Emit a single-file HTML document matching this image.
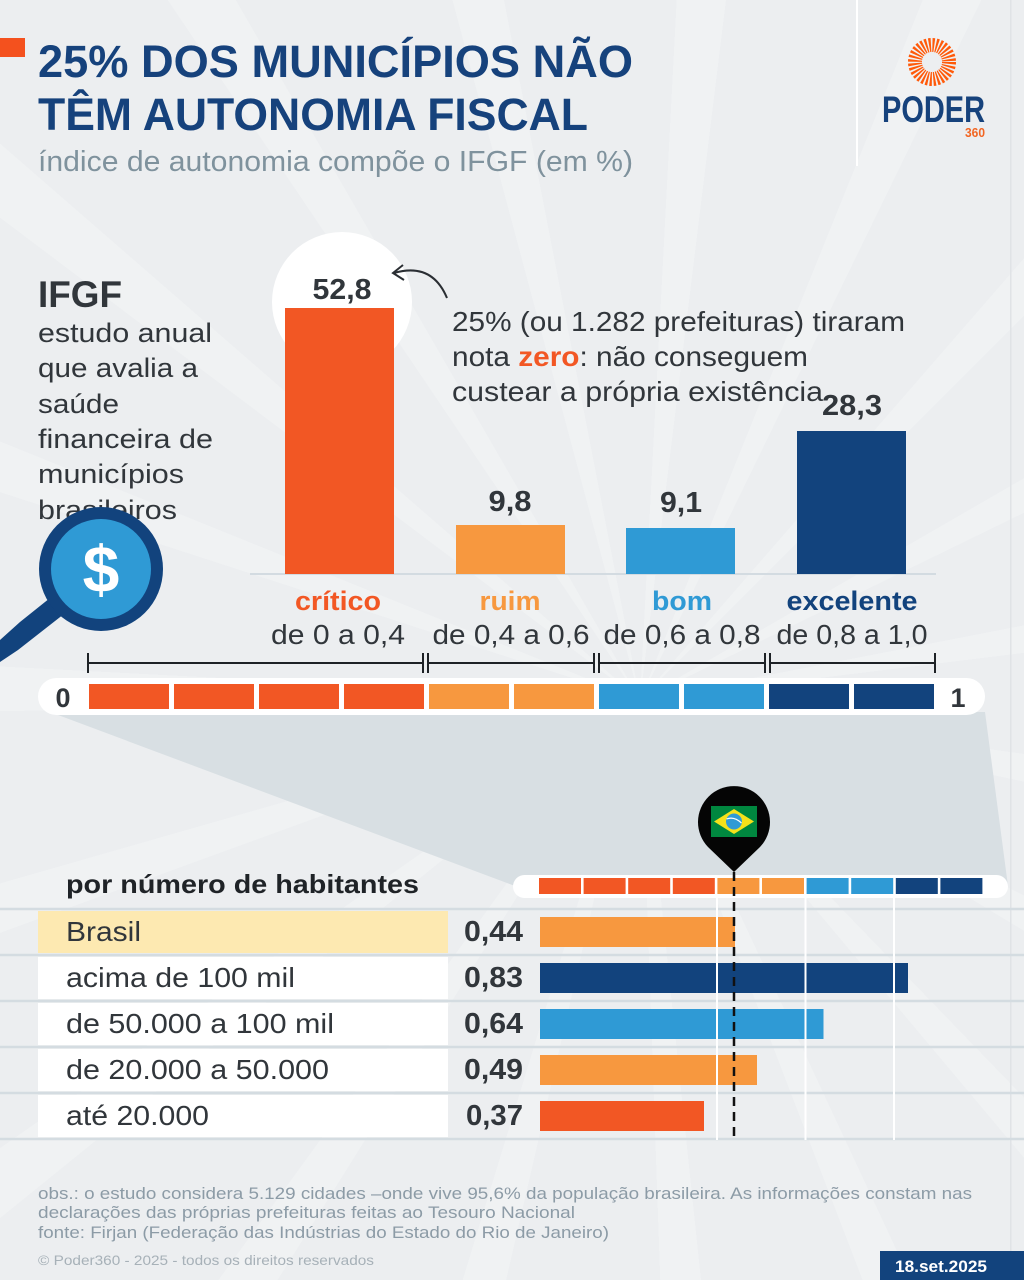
<!DOCTYPE html>
<html><head><meta charset="utf-8"><style>
html,body{margin:0;padding:0;width:1024px;height:1280px;overflow:hidden;}
body{background-color:#eceef0;background-image:repeating-conic-gradient(from 3deg at 640px 700px, rgba(255,255,255,0.22) 0deg 4deg, rgba(255,255,255,0) 4deg 19deg);}
svg{display:block;font-family:"Liberation Sans","Noto Sans CJK JP",sans-serif;overflow:hidden;}
</style></head><body>
<svg width="1024" height="1280" viewBox="0 0 1024 1280" xmlns="http://www.w3.org/2000/svg">

<!-- header -->
<rect x="0" y="38" width="25" height="19" fill="#f4511e"/>
<text x="38" y="77" font-size="45" font-weight="bold" fill="#16427c" textLength="595" lengthAdjust="spacingAndGlyphs">25% DOS MUNICÍPIOS NÃO</text>
<text x="38" y="130" font-size="45" font-weight="bold" fill="#16427c" textLength="550" lengthAdjust="spacingAndGlyphs">TÊM AUTONOMIA FISCAL</text>
<text x="38" y="171" font-size="29" fill="#7f929d" textLength="595" lengthAdjust="spacingAndGlyphs">índice de autonomia compõe o IFGF (em %)</text>

<rect x="856" y="0" width="2" height="166" fill="#ffffff"/>
<rect x="1010" y="0" width="1.5" height="1280" fill="#e0e3e6"/>

<!-- logo -->
<circle cx="932" cy="62" r="17" fill="none" stroke="#ff5a0a" stroke-width="14" stroke-dasharray="1.9 1.45"/>
<circle cx="932" cy="62" r="10" fill="#eceef0"/>
<text x="882" y="122" font-size="37" font-weight="bold" fill="#16427c" textLength="103" lengthAdjust="spacingAndGlyphs">PODER</text>
<text x="965" y="137" font-size="13" font-weight="bold" fill="#f26522" textLength="20" lengthAdjust="spacingAndGlyphs">360</text>

<!-- left text -->
<text x="38" y="307" font-size="37" font-weight="bold" fill="#31363b" textLength="84" lengthAdjust="spacingAndGlyphs">IFGF</text>
<g font-size="27" fill="#31363b">
<text x="38" y="342" textLength="174" lengthAdjust="spacingAndGlyphs">estudo anual</text>
<text x="38" y="377" textLength="160" lengthAdjust="spacingAndGlyphs">que avalia a</text>
<text x="38" y="413" textLength="81" lengthAdjust="spacingAndGlyphs">saúde</text>
<text x="38" y="448" textLength="175" lengthAdjust="spacingAndGlyphs">financeira de</text>
<text x="38" y="483" textLength="146" lengthAdjust="spacingAndGlyphs">municípios</text>
<text x="38" y="519" textLength="139" lengthAdjust="spacingAndGlyphs">brasileiros</text>
</g>

<!-- magnifier -->
<polygon points="50,598 64,614 18,650 0,662 0,640 20,622" fill="#12437d"/>
<circle cx="101" cy="569" r="62" fill="#12437d"/>
<circle cx="101" cy="569" r="50" fill="#2f9ad5"/>
<text x="101" y="592" font-size="66" font-weight="bold" fill="#ffffff" text-anchor="middle">$</text>

<!-- bar chart -->
<circle cx="342" cy="302" r="70" fill="#ffffff"/>
<line x1="250" y1="574" x2="936" y2="574" stroke="#d3dbe1" stroke-width="2"/>
<rect x="285" y="308" width="109" height="266" fill="#f25724"/>
<rect x="456" y="525" width="109" height="49" fill="#f7983f"/>
<rect x="626" y="528" width="109" height="46" fill="#2f9ad5"/>
<rect x="797" y="431" width="109" height="143" fill="#12437d"/>
<g font-size="29" font-weight="bold" fill="#31363b" text-anchor="middle">
<text x="342" y="299" textLength="59" lengthAdjust="spacingAndGlyphs">52,8</text>
<text x="510" y="511" textLength="43" lengthAdjust="spacingAndGlyphs">9,8</text>
<text x="681" y="512" textLength="42" lengthAdjust="spacingAndGlyphs">9,1</text>
<text x="852" y="415" textLength="60" lengthAdjust="spacingAndGlyphs">28,3</text>
</g>

<!-- annotation -->
<path d="M447,298 Q432,262 394,273" fill="none" stroke="#2a2e33" stroke-width="2"/>
<path d="M403,265 L393,273 L404,280" fill="none" stroke="#2a2e33" stroke-width="2"/>
<g font-size="28" fill="#31363b">
<text x="452" y="331" textLength="453" lengthAdjust="spacingAndGlyphs">25% (ou 1.282 prefeituras) tiraram</text>
<text x="452" y="366" textLength="356" lengthAdjust="spacingAndGlyphs">nota <tspan font-weight="bold" fill="#f25724">zero</tspan>: não conseguem</text>
<text x="452" y="401" textLength="371" lengthAdjust="spacingAndGlyphs">custear a própria existência</text>
</g>

<!-- category labels -->
<g font-size="27" font-weight="bold" text-anchor="middle">
<text x="338" y="610" fill="#f25724" textLength="86" lengthAdjust="spacingAndGlyphs">crítico</text>
<text x="510" y="610" fill="#f7983f" textLength="61" lengthAdjust="spacingAndGlyphs">ruim</text>
<text x="682" y="610" fill="#2f9ad5" textLength="60" lengthAdjust="spacingAndGlyphs">bom</text>
<text x="852" y="610" fill="#12437d" textLength="131" lengthAdjust="spacingAndGlyphs">excelente</text>
</g>
<g font-size="28" fill="#31363b" text-anchor="middle">
<text x="338" y="644" textLength="134" lengthAdjust="spacingAndGlyphs">de 0 a 0,4</text>
<text x="511" y="644" textLength="157" lengthAdjust="spacingAndGlyphs">de 0,4 a 0,6</text>
<text x="682" y="644" textLength="157" lengthAdjust="spacingAndGlyphs">de 0,6 a 0,8</text>
<text x="852" y="644" textLength="151" lengthAdjust="spacingAndGlyphs">de 0,8 a 1,0</text>
</g>

<!-- brackets -->
<g stroke="#1e2226" stroke-width="2" fill="none">
<line x1="88" y1="663" x2="423" y2="663"/><line x1="88" y1="653" x2="88" y2="673"/><line x1="423" y1="653" x2="423" y2="673"/>
<line x1="428" y1="663" x2="594" y2="663"/><line x1="428" y1="653" x2="428" y2="673"/><line x1="594" y1="653" x2="594" y2="673"/>
<line x1="599" y1="663" x2="765" y2="663"/><line x1="599" y1="653" x2="599" y2="673"/><line x1="765" y1="653" x2="765" y2="673"/>
<line x1="770" y1="663" x2="935" y2="663"/><line x1="770" y1="653" x2="770" y2="673"/><line x1="935" y1="653" x2="935" y2="673"/>
</g>

<!-- shadow -->
<polygon points="50,712 985,712 1008,886 515,886" fill="#d8dfe3"/>

<!-- big scale -->
<rect x="38" y="678" width="947" height="37" rx="18.5" fill="#ffffff"/>
<g>
<rect x="89" y="684" width="80" height="25" fill="#f25724"/>
<rect x="174" y="684" width="80" height="25" fill="#f25724"/>
<rect x="259" y="684" width="80" height="25" fill="#f25724"/>
<rect x="344" y="684" width="80" height="25" fill="#f25724"/>
<rect x="429" y="684" width="80" height="25" fill="#f7983f"/>
<rect x="514" y="684" width="80" height="25" fill="#f7983f"/>
<rect x="599" y="684" width="80" height="25" fill="#2f9ad5"/>
<rect x="684" y="684" width="80" height="25" fill="#2f9ad5"/>
<rect x="769" y="684" width="80" height="25" fill="#12437d"/>
<rect x="854" y="684" width="80" height="25" fill="#12437d"/>
</g>
<text x="63" y="707" font-size="27" font-weight="bold" fill="#31363b" text-anchor="middle">0</text>
<text x="958" y="707" font-size="27" font-weight="bold" fill="#31363b" text-anchor="middle">1</text>

<!-- small scale -->
<rect x="513" y="875" width="495" height="23" rx="11.5" fill="#ffffff"/>
<g>
<rect x="539" y="878" width="42" height="16" fill="#f25724"/>
<rect x="583.6" y="878" width="42" height="16" fill="#f25724"/>
<rect x="628.2" y="878" width="42" height="16" fill="#f25724"/>
<rect x="672.8" y="878" width="42" height="16" fill="#f25724"/>
<rect x="717.4" y="878" width="42" height="16" fill="#f7983f"/>
<rect x="762" y="878" width="42" height="16" fill="#f7983f"/>
<rect x="806.6" y="878" width="42" height="16" fill="#2f9ad5"/>
<rect x="851.2" y="878" width="42" height="16" fill="#2f9ad5"/>
<rect x="895.8" y="878" width="42" height="16" fill="#12437d"/>
<rect x="940.4" y="878" width="42" height="16" fill="#12437d"/>
</g>

<!-- pin -->
<path d="M734,872 L708,847 A36,36 0 1,1 760,847 Z" fill="#050505"/>
<rect x="711" y="806" width="46" height="31" fill="#00873f"/>
<polygon points="714,821.5 734,809 754,821.5 734,834" fill="#f5e11a"/>
<circle cx="734" cy="821.5" r="8" fill="#2f9ad5"/>
<path d="M726.5,819 Q734,816 741.5,823" fill="none" stroke="#ffffff" stroke-width="1.2"/>

<!-- table -->
<text x="66" y="893" font-size="26" font-weight="bold" fill="#1f2327" textLength="353" lengthAdjust="spacingAndGlyphs">por número de habitantes</text>
<g stroke="#d4dce1" stroke-width="2.5">
<line x1="0" y1="909" x2="1024" y2="909"/>
<line x1="0" y1="955" x2="1024" y2="955"/>
<line x1="0" y1="1001" x2="1024" y2="1001"/>
<line x1="0" y1="1047" x2="1024" y2="1047"/>
<line x1="0" y1="1093" x2="1024" y2="1093"/>
<line x1="0" y1="1139" x2="1024" y2="1139"/>
</g>
<rect x="38" y="911" width="410" height="42" fill="#fde9b1"/>
<rect x="38" y="957" width="410" height="42" fill="#ffffff"/>
<rect x="38" y="1003" width="410" height="42" fill="#ffffff"/>
<rect x="38" y="1049" width="410" height="42" fill="#ffffff"/>
<rect x="38" y="1095" width="410" height="42" fill="#ffffff"/>
<g font-size="28" fill="#31363b">
<text x="66" y="941" textLength="75" lengthAdjust="spacingAndGlyphs">Brasil</text>
<text x="66" y="987" textLength="229" lengthAdjust="spacingAndGlyphs">acima de 100 mil</text>
<text x="66" y="1033" textLength="268" lengthAdjust="spacingAndGlyphs">de 50.000 a 100 mil</text>
<text x="66" y="1079" textLength="263" lengthAdjust="spacingAndGlyphs">de 20.000 a 50.000</text>
<text x="66" y="1125" textLength="143" lengthAdjust="spacingAndGlyphs">até 20.000</text>
</g>
<g font-size="29" font-weight="bold" fill="#31363b" text-anchor="end">
<text x="523" y="941" textLength="59" lengthAdjust="spacingAndGlyphs">0,44</text>
<text x="523" y="987" textLength="59" lengthAdjust="spacingAndGlyphs">0,83</text>
<text x="523" y="1033" textLength="59" lengthAdjust="spacingAndGlyphs">0,64</text>
<text x="523" y="1079" textLength="59" lengthAdjust="spacingAndGlyphs">0,49</text>
<text x="523" y="1125" textLength="57" lengthAdjust="spacingAndGlyphs">0,37</text>
</g>
<rect x="540" y="917" width="195" height="30" fill="#f7983f"/>
<rect x="540" y="963" width="368" height="30" fill="#12437d"/>
<rect x="540" y="1009" width="283.5" height="30" fill="#2f9ad5"/>
<rect x="540" y="1055" width="217" height="30" fill="#f7983f"/>
<rect x="540" y="1101" width="164" height="30" fill="#f25724"/>
<g stroke="#ffffff" stroke-width="2">
<line x1="717" y1="898" x2="717" y2="1140"/>
<line x1="805.5" y1="898" x2="805.5" y2="1140"/>
<line x1="894" y1="898" x2="894" y2="1140"/>
</g>
<line x1="734" y1="872" x2="734" y2="1140" stroke="#111111" stroke-width="2.5" stroke-dasharray="9 6"/>

<!-- footer -->
<g font-size="17" fill="#8c9ba6">
<text x="38" y="1199" textLength="934" lengthAdjust="spacingAndGlyphs">obs.: o estudo considera 5.129 cidades –onde vive 95,6% da população brasileira. As informações constam nas</text>
<text x="38" y="1218" textLength="537" lengthAdjust="spacingAndGlyphs">declarações das próprias prefeituras feitas ao Tesouro Nacional</text>
<text x="38" y="1238" textLength="571" lengthAdjust="spacingAndGlyphs">fonte: Firjan (Federação das Indústrias do Estado do Rio de Janeiro)</text>
</g>
<text x="38" y="1265" font-size="14" fill="#a7b1b8" textLength="336" lengthAdjust="spacingAndGlyphs">© Poder360 - 2025 - todos os direitos reservados</text>
<rect x="880" y="1251" width="144" height="29" fill="#12437d"/>
<text x="941" y="1272" font-size="17" font-weight="bold" fill="#ffffff" text-anchor="middle" textLength="92" lengthAdjust="spacingAndGlyphs">18.set.2025</text>
</svg>
</body></html>
